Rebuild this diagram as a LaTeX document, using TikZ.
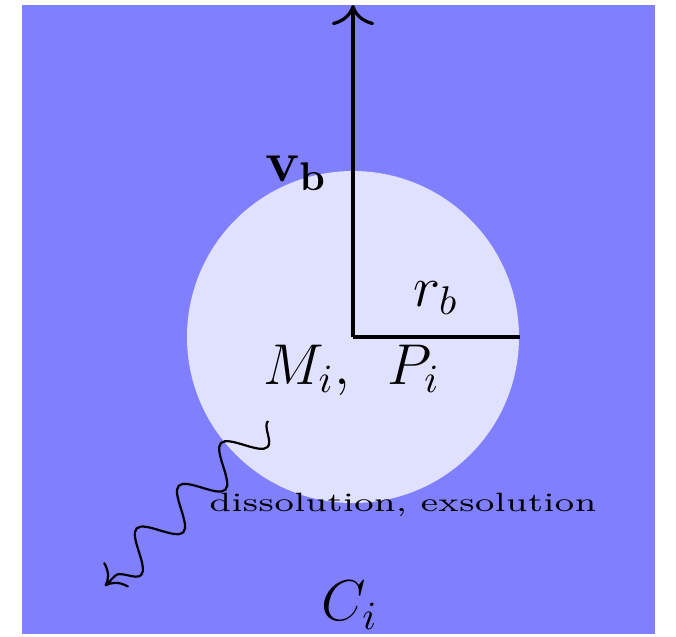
\documentclass[tikz,border=0pt]{standalone}
\usepackage{graphicx}
\usetikzlibrary{decorations.pathmorphing,arrows.meta}
\definecolor{bgblue}{RGB}{128,128,255}
\definecolor{bubble}{RGB}{224,224,255}
\begin{document}
\begin{tikzpicture}[x=0.25pt,y=-0.25pt,
  lbl/.style={inner sep=0pt},
  axis/.style={line width=0.8pt},
  tip/.style={-{To[scale=1.5]}},
  wavy/.style={line width=0.55pt,tip,decorate,decoration={snake,amplitude=4.5pt,segment length=15pt,post length=3pt}}]
\useasboundingbox (0,0) rectangle (676,636);
\fill[bgblue] (22,5) rectangle (655,634);
\fill[bubble] (353,337) circle[radius=166*0.25pt];
\coordinate (c) at (353,337);
\coordinate (top) at (353,5);
\coordinate (rim) at (520,337);
\draw[axis,tip] (c) -- (top);
\draw[axis] (c) -- (rim);
\node[lbl] (vb) at (296,173) {\Large$\mathbf{v_b}$};
\node[lbl] (rb) at (436,298) {\Large$r_b$};
\node[lbl] (mp) at (352,370) {\Large$M_i,\ \,P_i$};
\node[lbl] (ci) at (350,605) {\Large$C_i$};
\node[lbl,anchor=base] (dis) at (403,511) {\resizebox{96.75pt}{4.6pt}{\scriptsize dissolution, exsolution}};
\coordinate (ws) at (268,421);
\coordinate (we) at (105,586);
\draw[wavy] (ws) -- (we);
\end{tikzpicture}
\end{document}
